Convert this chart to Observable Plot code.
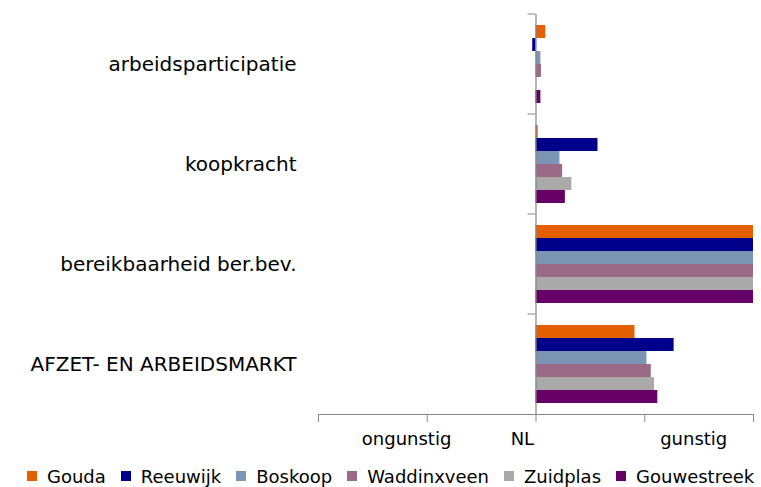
<!DOCTYPE html>
<html>
<head>
<meta charset="utf-8">
<script src="https://cdn.jsdelivr.net/npm/d3@7"></script>
<script src="https://cdn.jsdelivr.net/npm/@observablehq/plot@0.6"></script>
<style>
  html, body { margin: 0; padding: 0; background: #fff; }
  body { width: 761px; height: 487px; overflow: hidden; font-family: Verdana, "DejaVu Sans", sans-serif; }
  #legend { display: flex; align-items: center; gap: 15px; padding-left: 27px; height: 26px; font-size: 18px; color: #000; white-space: nowrap; }
  #legend .item { display: flex; align-items: center; gap: 10px; }
  #legend .sw { width: 10px; height: 10px; display: inline-block; }
</style>
</head>
<body>
<div id="chart"></div>
<div id="legend"></div>
<script>
const categories = ["arbeidsparticipatie", "koopkracht", "bereikbaarheid ber.bev.", "AFZET- EN ARBEIDSMARKT"];
const seriesNames = ["Gouda", "Reeuwijk", "Boskoop", "Waddinxveen", "Zuidplas", "Gouwestreek"];
const seriesColors = ["#E35F00", "#00008A", "#7A96B4", "#9A6A86", "#AAAAAA", "#660066"];

const gouda       = [0.09, 0.02, 2, 0.91];
const reeuwijk    = [-0.03, 0.57, 2, 1.27];
const boskoop     = [0.045, 0.22, 2, 1.02];
const waddinxveen = [0.05, 0.245, 2, 1.06];
const zuidplas    = [0, 0.33, 2, 1.09];
const gouwestreek = [0.045, 0.27, 2, 1.12];

const xTicks = [-2, -1, 0, 1, 2];
const xLabelText = ["ongunstig", "NL", "gunstig"];
const xLabelPos = [-1.19, -0.125, 1.45];

const seriesValues = [gouda, reeuwijk, boskoop, waddinxveen, zuidplas, gouwestreek];
const rows = [];
categories.forEach((c, ci) => seriesNames.forEach((s, si) => rows.push({category: c, series: s, value: seriesValues[si][ci]})));

const axisGrey = "#868686";

function categoryTicks(index, scales, values, dimensions) {
  const g = d3.create("svg:g");
  const x0 = scales.x(0);
  g.append("line")
    .attr("x1", x0 - 8).attr("x2", x0)
    .attr("y1", dimensions.marginTop).attr("y2", dimensions.marginTop)
    .attr("stroke", axisGrey).attr("stroke-width", 1);
  return g.node();
}

const chart = Plot.plot({
  width: 761,
  height: 463,
  marginLeft: 318,
  marginRight: 8,
  marginTop: 14,
  marginBottom: 49,
  style: {fontFamily: 'Verdana, "DejaVu Sans", sans-serif', fontSize: "18px", color: "#000", background: "#fff"},
  x: {domain: [-2, 2], clamp: true, axis: null},
  y: {domain: seriesNames, paddingInner: 0, paddingOuter: 0.75, axis: null},
  fy: {domain: categories, padding: 0, axis: null},
  color: {domain: seriesNames, range: seriesColors},
  marks: [
    Plot.barX(rows, {x: "value", y: "series", fy: "category", fill: "series"}),
    Plot.ruleX([0], {stroke: axisGrey, strokeWidth: 1.2}),
    categoryTicks,
    Plot.axisFy({anchor: "left", tickSize: 0, tickPadding: 22, fontSize: 20, label: null}),
    Plot.frame({anchor: "bottom", facetAnchor: "bottom", stroke: axisGrey}),
    Plot.axisX({anchor: "bottom", ticks: xTicks, tickSize: 8, tickFormat: () => "", stroke: axisGrey, label: null}),
    Plot.axisX({anchor: "bottom", ticks: xLabelPos, tickSize: 0, tickPadding: 18, tickFormat: (d, i) => xLabelText[i], label: null})
  ]
});
document.getElementById("chart").appendChild(chart);

const legend = document.getElementById("legend");
seriesNames.forEach((s, i) => {
  const item = document.createElement("span");
  item.className = "item";
  const sw = document.createElement("span");
  sw.className = "sw";
  sw.style.background = seriesColors[i];
  const t = document.createElement("span");
  t.textContent = s;
  item.appendChild(sw); item.appendChild(t);
  legend.appendChild(item);
});
</script>
</body>
</html>
